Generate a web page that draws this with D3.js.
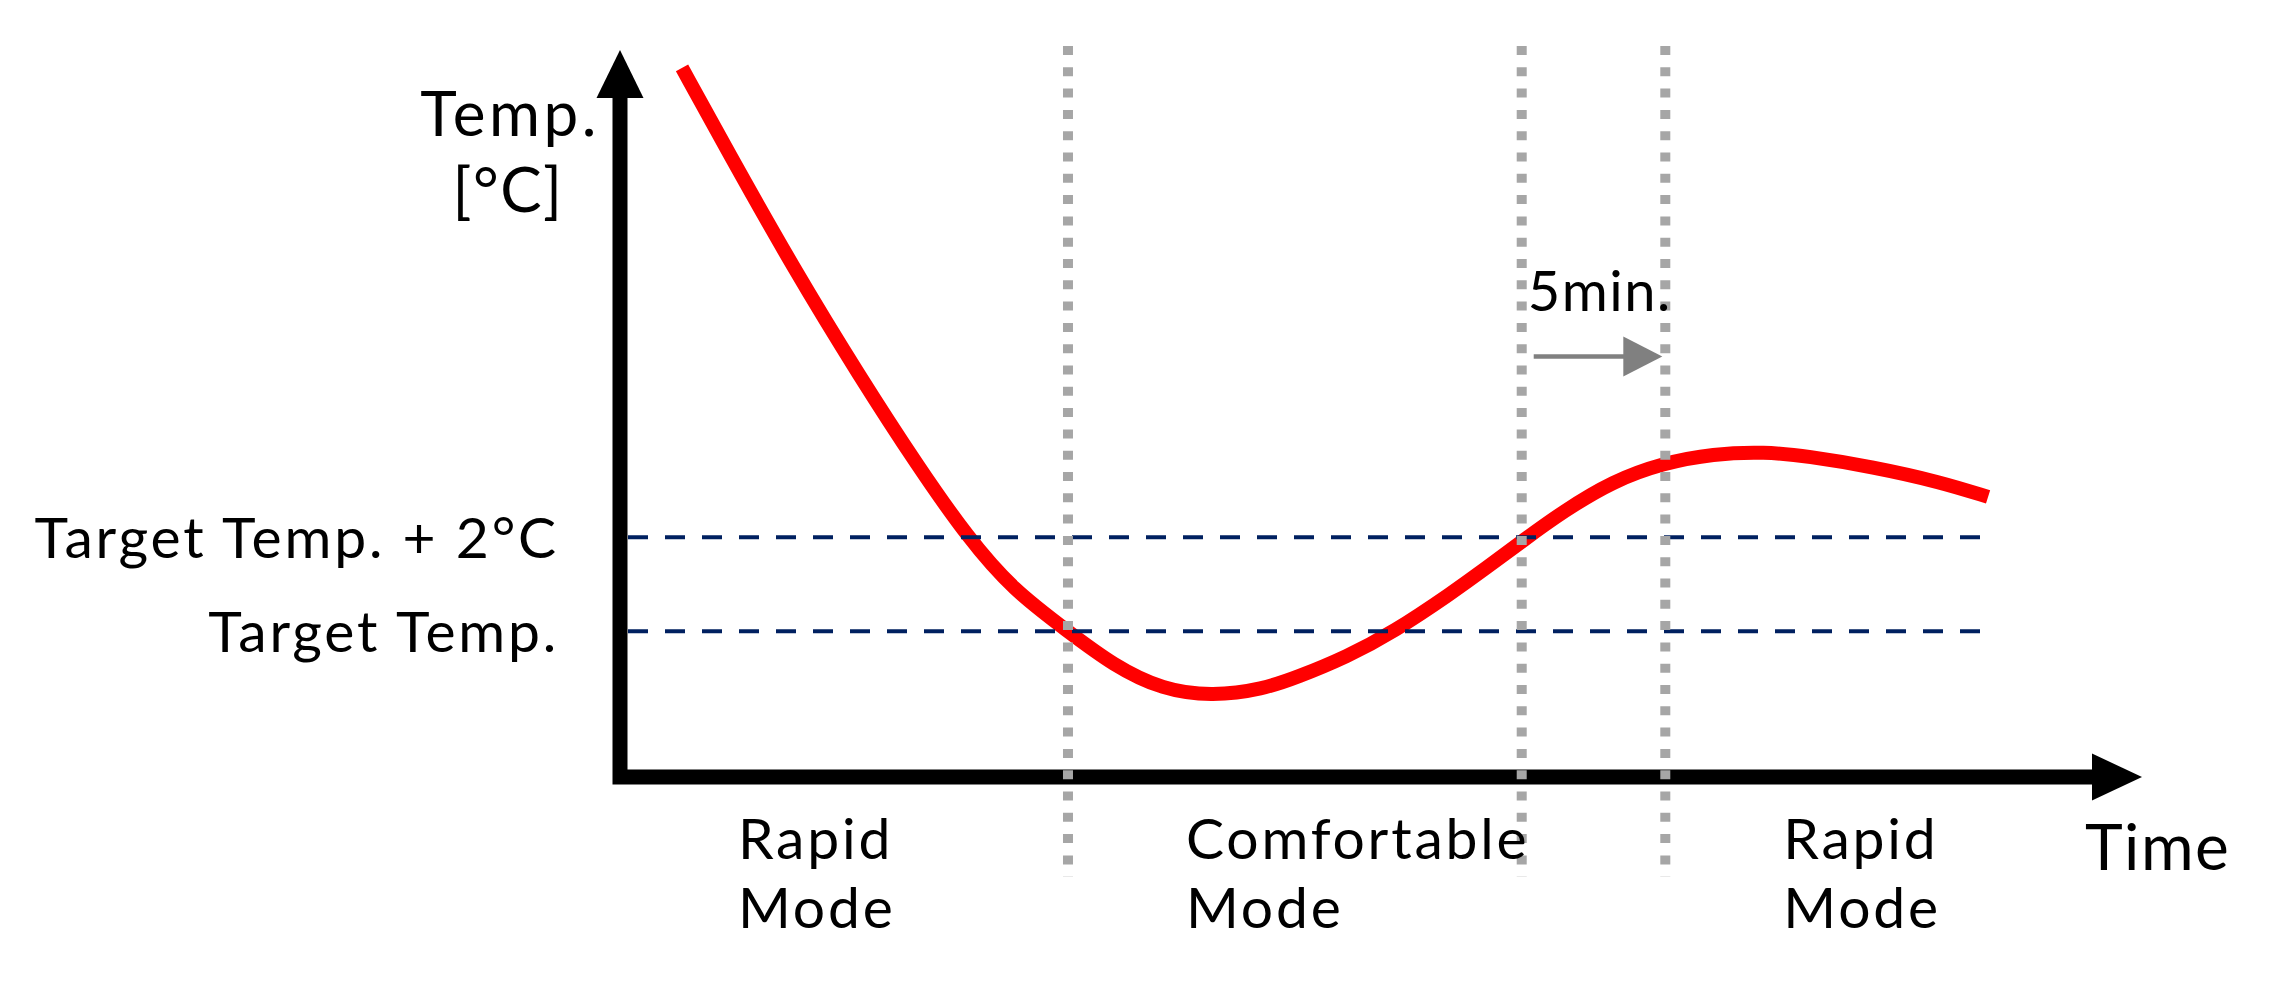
<!DOCTYPE html>
<html>
<head>
<meta charset="utf-8">
<script src="https://cdn.jsdelivr.net/npm/d3@7"></script>
<style>
  html, body { margin: 0; padding: 0; background: #fff; }
  svg { display: block; }
  text { font-family: Lato, 'Open Sans', sans-serif; fill: #000; }
</style>
</head>
<body>
<svg id="chart" width="2274" height="982"></svg>
<script>
// time in minutes, temperature in degC (target temp = 20)
var curveTime = [2.16, 3.73, 6.02, 8.36, 10.41, 12.12, 13.69, 15.6, 17.17, 18.91, 20.65, 22.39, 23.57, 25.32, 26.92, 28.97, 30.19, 31.44, 32.84, 34.58, 36.32, 38.06, 39.87, 41.33, 43.63, 45.97, 47.64]
var curveTemp = [31.99, 30.24, 27.75, 25.41, 23.48, 21.99, 20.88, 20.0, 19.28, 18.75, 18.62, 18.77, 19.02, 19.46, 19.98, 20.82, 21.36, 21.93, 22.55, 23.2, 23.58, 23.78, 23.82, 23.73, 23.5, 23.18, 22.86]

var refTemps = [22, 20]
var refLabels = ['Target Temp. + 2°C', 'Target Temp.']

var modeBounds = [15.6, 31.4, 36.4]
var modeStarts = [0, 15.6, 36.4]
var modeNames = [['Rapid', 'Mode'], ['Comfortable', 'Mode'], ['Rapid', 'Mode']]

var delayFrom = 31.4
var delayTo = 36.4
var delayLabel = '5min.'

var svg = d3.select('#chart')

var x = d3.scaleLinear().domain([0, 53]).range([620, 2142])
var y = d3.scaleLinear().domain([16.9, 32.35]).range([777, 51])

var refEnd = 47.7

// axes (L shape with arrow heads)
svg.append('path')
  .attr('d', 'M' + x(0) + ',' + (y(32.35) + 46) + ' V' + y(16.9) + ' H' + (x(53) - 50))
  .attr('fill', 'none')
  .attr('stroke', '#000')
  .attr('stroke-width', 15)
  .attr('stroke-linejoin', 'miter')

svg.append('path')
  .attr('d', d3.line()([[x(0), y(32.35) - 1], [x(0) - 23.5, y(32.35) + 47], [x(0) + 23.5, y(32.35) + 47]]) + 'Z')
  .attr('fill', '#000')

svg.append('path')
  .attr('d', d3.line()([[x(53), y(16.9)], [x(53) - 50, y(16.9) - 23.5], [x(53) - 50, y(16.9) + 23.5]]) + 'Z')
  .attr('fill', '#000')

// temperature curve
var line = d3.line()
  .x(function (d, i) { return x(curveTime[i]) })
  .y(function (d) { return y(d) })
  .curve(d3.curveBasis)

svg.append('path')
  .datum(curveTemp)
  .attr('d', line)
  .attr('fill', 'none')
  .attr('stroke', '#ff0000')
  .attr('stroke-width', 14)

// target temperature references
svg.append('g')
  .selectAll('line')
  .data(refTemps)
  .enter().append('line')
    .attr('x1', x(0) + 8)
    .attr('x2', x(refEnd))
    .attr('y1', function (d) { return y(d) })
    .attr('y2', function (d) { return y(d) })
    .attr('stroke', '#002060')
    .attr('stroke-width', 4)
    .attr('stroke-dasharray', '20 17')

var yAxis = d3.axisLeft(y)
  .tickValues(refTemps)
  .tickFormat(function (d, i) { return refLabels[i] })
  .tickSize(0)
  .tickPadding(61)

var gy = svg.append('g')
  .attr('transform', 'translate(' + x(0) + ',0)')
  .call(yAxis)
gy.select('.domain').remove()
gy.selectAll('text')
  .attr('dy', '0.36em')
  .style('font-size', '57px')
  .style('font-family', "Lato, 'Open Sans', sans-serif")
  .style('letter-spacing', '2.8px')
  .attr('fill', '#000')

// mode boundaries
svg.append('g')
  .selectAll('line')
  .data(modeBounds)
  .enter().append('line')
    .attr('x1', function (d) { return x(d) })
    .attr('x2', function (d) { return x(d) })
    .attr('y1', 46)
    .attr('y2', 877)
    .attr('stroke', '#a6a6a6')
    .attr('stroke-width', 10)
    .attr('stroke-dasharray', '9 12.3')

// 5 min delay arrow
var ay = y(25.85)
svg.append('line')
  .attr('x1', x(delayFrom) + 12)
  .attr('x2', x(delayTo) - 38)
  .attr('y1', ay)
  .attr('y2', ay)
  .attr('stroke', '#808080')
  .attr('stroke-width', 4.5)

svg.append('path')
  .attr('d', d3.line()([[x(delayTo) - 3, ay], [x(delayTo) - 42, ay - 20], [x(delayTo) - 42, ay + 20]]) + 'Z')
  .attr('fill', '#808080')

svg.append('text')
  .attr('x', x(delayFrom) + 6)
  .attr('y', ay - 45)
  .style('font-size', '56px')
  .style('letter-spacing', '1.5px')
  .text(delayLabel)

// mode labels, one text per line
var modeGroup = svg.append('g')
  .selectAll('g')
  .data(modeNames)
  .enter().append('g')
    .attr('transform', function (d, i) { return 'translate(' + (x(modeStarts[i]) + 118) + ',859)' })

modeGroup.selectAll('text')
  .data(function (d) { return d })
  .enter().append('text')
    .attr('y', function (d, i) { return i * 69 })
    .style('font-size', '57px')
    .style('letter-spacing', '2.8px')
    .text(function (d) { return d })

// axis titles
svg.append('text')
  .attr('x', 510)
  .attr('y', 136)
  .attr('text-anchor', 'middle')
  .style('font-size', '62px')
  .style('letter-spacing', '3.5px')
  .text('Temp.')

svg.append('text')
  .attr('x', 508)
  .attr('y', 212)
  .attr('text-anchor', 'middle')
  .style('font-size', '62px')
  .style('letter-spacing', '1.5px')
  .text('[°C]')

svg.append('text')
  .attr('x', 2085)
  .attr('y', 870)
  .style('font-size', '64px')
  .style('letter-spacing', '1.5px')
  .text('Time')
</script>
</body>
</html>
